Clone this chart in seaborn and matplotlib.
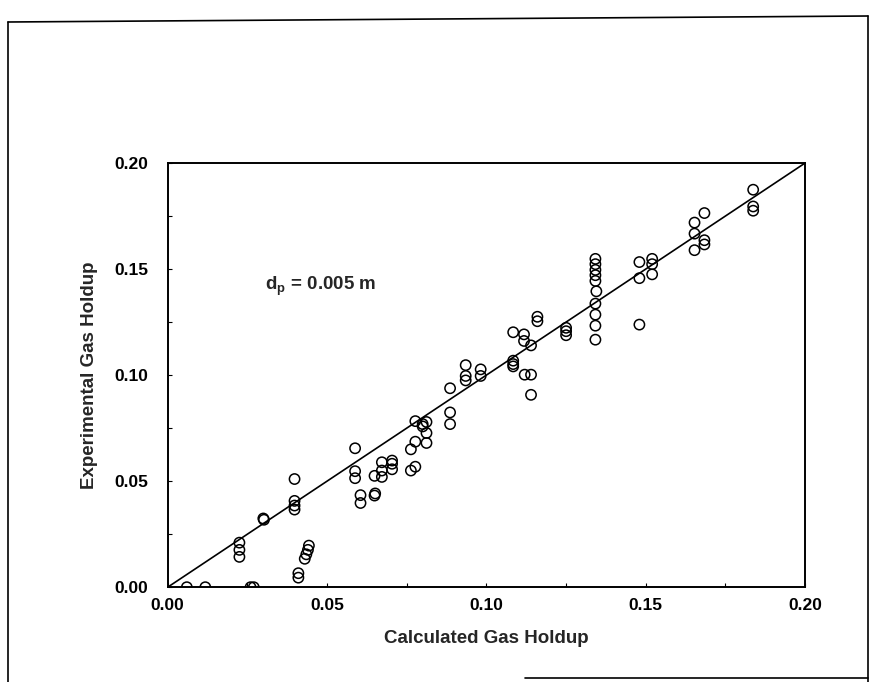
import matplotlib
matplotlib.use("Agg")
import matplotlib.pyplot as plt
from matplotlib.lines import Line2D
from matplotlib.ticker import MultipleLocator
import numpy as np
import pandas as pd
import seaborn as sns

# Calculated vs experimental gas holdup, particle diameter 0.005 m
calculated = [
    0.006, 0.0118, 0.026, 0.027,
    0.0225, 0.0225, 0.0225,
    0.030, 0.0302,
    0.0398, 0.0398, 0.0398, 0.0398,
    0.041, 0.041,
    0.043, 0.0435, 0.044, 0.0443,
    0.0588, 0.0588, 0.0588,
    0.0605, 0.0605,
    0.0649, 0.0649, 0.0651,
    0.0672, 0.0672, 0.0672,
    0.0704, 0.0704, 0.0704,
    0.0763, 0.0763,
    0.0777, 0.0777, 0.0777,
    0.080, 0.080,
    0.0812, 0.0812, 0.0812,
    0.0886, 0.0886, 0.0886,
    0.0935, 0.0935, 0.0935,
    0.0982, 0.0982,
    0.1084, 0.1084, 0.1084, 0.1084,
    0.1118, 0.1118, 0.112,
    0.114, 0.114, 0.114,
    0.116, 0.116,
    0.125, 0.125, 0.125,
    0.1342, 0.1342, 0.1342, 0.1342, 0.1342, 0.1345, 0.1342, 0.1342, 0.1342, 0.1342,
    0.148, 0.148, 0.148,
    0.152, 0.152, 0.152,
    0.1653, 0.1653, 0.1653,
    0.1684, 0.1684, 0.1684,
    0.1837, 0.1837, 0.1837,
]
experimental = [
    0.0, 0.0, 0.0, 0.0,
    0.021, 0.0176, 0.0143,
    0.0324, 0.0318,
    0.051, 0.0407, 0.0385, 0.0366,
    0.0066, 0.0045,
    0.0134, 0.0155, 0.0176, 0.0196,
    0.0655, 0.0547, 0.0514,
    0.0434, 0.0397,
    0.0525, 0.0432, 0.0442,
    0.0589, 0.055, 0.052,
    0.0597, 0.0582, 0.0556,
    0.065, 0.055,
    0.0783, 0.0686, 0.0568,
    0.0769, 0.0758,
    0.0779, 0.0727, 0.068,
    0.0938, 0.0824, 0.0769,
    0.1047, 0.0996, 0.0975,
    0.1027, 0.0996,
    0.1202, 0.1068, 0.1052, 0.1041,
    0.1192, 0.1161, 0.1002,
    0.114, 0.1002, 0.0907,
    0.1275, 0.1254,
    0.1223, 0.1207, 0.1188,
    0.1548, 0.1523, 0.1496, 0.1471, 0.1444, 0.1395, 0.1337, 0.1285, 0.1233, 0.1167,
    0.1533, 0.1457, 0.1238,
    0.1548, 0.1523, 0.1475,
    0.1719, 0.1667, 0.1589,
    0.1764, 0.1636, 0.1616,
    0.1874, 0.1795, 0.1775,
]
parity_line = [0.0, 0.20]
axis_ticks = [0.00, 0.05, 0.10, 0.15, 0.20]
tick_labels = ["0.00", "0.05", "0.10", "0.15", "0.20"]

df = pd.DataFrame({"calc": calculated, "exp": experimental})

sns.set_style("ticks")
plt.rcParams["font.family"] = ["Liberation Sans", "DejaVu Sans"]
plt.rcParams["font.weight"] = "bold"
plt.rcParams["mathtext.fontset"] = "custom"
plt.rcParams["mathtext.rm"] = "Liberation Sans:bold"

fig = plt.figure(figsize=(8.78, 6.82), dpi=100)
ax = fig.add_axes([0.191, 0.139, 0.726, 0.622])

sns.scatterplot(data=df, x="calc", y="exp", ax=ax, marker="o", s=55,
                facecolor="none", edgecolor="black", linewidth=1.1, zorder=3)
sns.lineplot(x=parity_line, y=parity_line, ax=ax, color="black", linewidth=1.2)

ax.set_xlim(0, 0.20)
ax.set_ylim(0, 0.20)
ax.set_xticks(axis_ticks)
ax.set_xticklabels(tick_labels)
ax.set_yticks(axis_ticks)
ax.set_yticklabels(tick_labels)
ax.xaxis.set_minor_locator(MultipleLocator(0.025))
ax.yaxis.set_minor_locator(MultipleLocator(0.025))
ax.tick_params(which="both", direction="in", length=3, width=0.8, colors="black",
               labelsize=12.5)
ax.tick_params(axis="y", pad=14)
ax.tick_params(axis="x", pad=8)
for sp in ax.spines.values():
    sp.set_visible(True)
    sp.set_linewidth(1.4)
    sp.set_color("black")

ax.set_xlabel("Calculated Gas Holdup", fontsize=13.5, fontweight="bold", labelpad=12)
ax.set_ylabel("Experimental Gas Holdup", fontsize=13.5, fontweight="bold", labelpad=12)

ax.text(0.0305, 0.142, r"d$_\mathregular{p}$ = 0.005 m", fontsize=13.5,
        fontweight="bold", va="center", ha="left")

# page frame around the figure
frame_color = "black"
fig.add_artist(Line2D([8 / 878, 868 / 878], [1 - 22 / 682, 1 - 16 / 682],
                      transform=fig.transFigure, color=frame_color, lw=1.2))
fig.add_artist(Line2D([8 / 878, 8 / 878], [1 - 22 / 682, 0.0],
                      transform=fig.transFigure, color=frame_color, lw=1.2))
fig.add_artist(Line2D([868 / 878, 868 / 878], [1 - 16 / 682, 0.0],
                      transform=fig.transFigure, color=frame_color, lw=1.2))
fig.add_artist(Line2D([525 / 878, 868 / 878], [1 - 678 / 682, 1 - 678 / 682],
                      transform=fig.transFigure, color=frame_color, lw=1.2))

fig.savefig("out.png", dpi=100)
